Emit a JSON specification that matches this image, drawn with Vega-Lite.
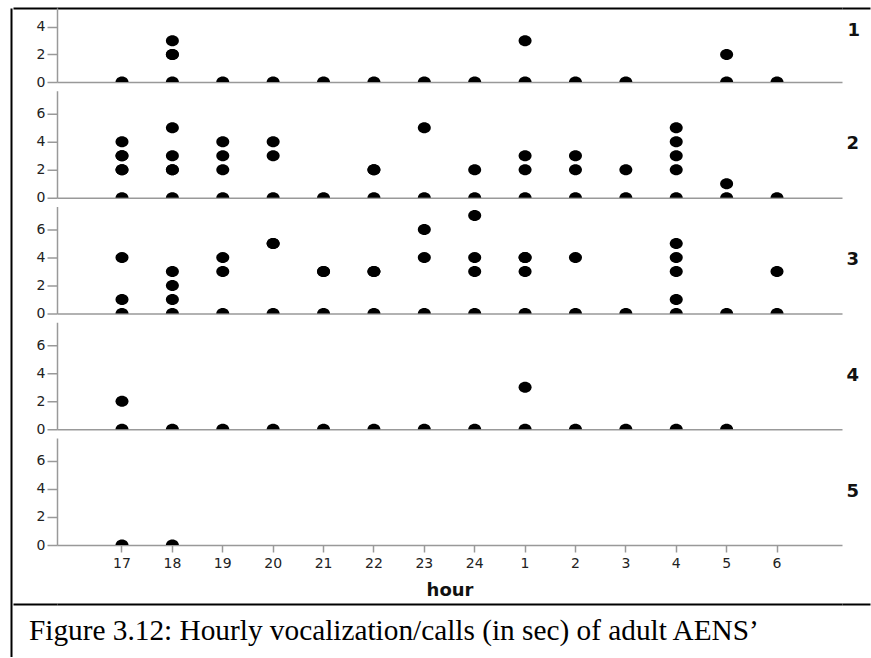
{
  "$schema": "https://vega.github.io/schema/vega-lite/v6.json",
  "background": "white",
  "padding": {"left": 10, "top": 7, "right": 0, "bottom": 0},
  "config": {
    "view": {"stroke": null},
    "font": "DejaVu Sans",
    "axis": {"labelFont": "DejaVu Sans", "titleFont": "DejaVu Sans", "grid": false}
  },
  "spacing": 0,
  "hconcat": [
    {
      "width": 1,
      "height": 649,
      "data": {"values": [{"part": "left frame line"}]},
      "mark": {"type": "point", "opacity": 0, "size": 1},
      "encoding": {
        "x": {"datum": 0, "type": "quantitative", "axis": null},
        "y": {"datum": 0, "type": "quantitative", "axis": {"orient": "left", "labels": false, "ticks": false, "title": null, "domainColor": "black", "domainWidth": 2}}
      }
    },
    {
      "spacing": 4,
      "vconcat": [
        {
          "data": {"values": [
            {"panel": 1, "hour": "17", "value": 0},
            {"panel": 1, "hour": "18", "value": 0},
            {"panel": 1, "hour": "18", "value": 2},
            {"panel": 1, "hour": "18", "value": 2},
            {"panel": 1, "hour": "18", "value": 3},
            {"panel": 1, "hour": "19", "value": 0},
            {"panel": 1, "hour": "20", "value": 0},
            {"panel": 1, "hour": "21", "value": 0},
            {"panel": 1, "hour": "22", "value": 0},
            {"panel": 1, "hour": "23", "value": 0},
            {"panel": 1, "hour": "24", "value": 0},
            {"panel": 1, "hour": "1", "value": 0},
            {"panel": 1, "hour": "1", "value": 3},
            {"panel": 1, "hour": "2", "value": 0},
            {"panel": 1, "hour": "3", "value": 0},
            {"panel": 1, "hour": "5", "value": 0},
            {"panel": 1, "hour": "5", "value": 2},
            {"panel": 1, "hour": "6", "value": 0},
            {"panel": 2, "hour": "17", "value": 0},
            {"panel": 2, "hour": "17", "value": 2},
            {"panel": 2, "hour": "17", "value": 2},
            {"panel": 2, "hour": "17", "value": 3},
            {"panel": 2, "hour": "17", "value": 3},
            {"panel": 2, "hour": "17", "value": 4},
            {"panel": 2, "hour": "18", "value": 0},
            {"panel": 2, "hour": "18", "value": 2},
            {"panel": 2, "hour": "18", "value": 2},
            {"panel": 2, "hour": "18", "value": 3},
            {"panel": 2, "hour": "18", "value": 5},
            {"panel": 2, "hour": "19", "value": 0},
            {"panel": 2, "hour": "19", "value": 2},
            {"panel": 2, "hour": "19", "value": 3},
            {"panel": 2, "hour": "19", "value": 4},
            {"panel": 2, "hour": "20", "value": 0},
            {"panel": 2, "hour": "20", "value": 3},
            {"panel": 2, "hour": "20", "value": 4},
            {"panel": 2, "hour": "21", "value": 0},
            {"panel": 2, "hour": "22", "value": 0},
            {"panel": 2, "hour": "22", "value": 2},
            {"panel": 2, "hour": "22", "value": 2},
            {"panel": 2, "hour": "23", "value": 0},
            {"panel": 2, "hour": "23", "value": 5},
            {"panel": 2, "hour": "24", "value": 0},
            {"panel": 2, "hour": "24", "value": 2},
            {"panel": 2, "hour": "1", "value": 0},
            {"panel": 2, "hour": "1", "value": 2},
            {"panel": 2, "hour": "1", "value": 3},
            {"panel": 2, "hour": "2", "value": 0},
            {"panel": 2, "hour": "2", "value": 2},
            {"panel": 2, "hour": "2", "value": 3},
            {"panel": 2, "hour": "3", "value": 0},
            {"panel": 2, "hour": "3", "value": 2},
            {"panel": 2, "hour": "4", "value": 0},
            {"panel": 2, "hour": "4", "value": 2},
            {"panel": 2, "hour": "4", "value": 3},
            {"panel": 2, "hour": "4", "value": 4},
            {"panel": 2, "hour": "4", "value": 5},
            {"panel": 2, "hour": "5", "value": 0},
            {"panel": 2, "hour": "5", "value": 1},
            {"panel": 2, "hour": "6", "value": 0},
            {"panel": 3, "hour": "17", "value": 0},
            {"panel": 3, "hour": "17", "value": 1},
            {"panel": 3, "hour": "17", "value": 4},
            {"panel": 3, "hour": "18", "value": 0},
            {"panel": 3, "hour": "18", "value": 1},
            {"panel": 3, "hour": "18", "value": 2},
            {"panel": 3, "hour": "18", "value": 3},
            {"panel": 3, "hour": "19", "value": 0},
            {"panel": 3, "hour": "19", "value": 3},
            {"panel": 3, "hour": "19", "value": 4},
            {"panel": 3, "hour": "20", "value": 0},
            {"panel": 3, "hour": "20", "value": 5},
            {"panel": 3, "hour": "20", "value": 5},
            {"panel": 3, "hour": "21", "value": 0},
            {"panel": 3, "hour": "21", "value": 3},
            {"panel": 3, "hour": "21", "value": 3},
            {"panel": 3, "hour": "22", "value": 0},
            {"panel": 3, "hour": "22", "value": 3},
            {"panel": 3, "hour": "22", "value": 3},
            {"panel": 3, "hour": "23", "value": 0},
            {"panel": 3, "hour": "23", "value": 4},
            {"panel": 3, "hour": "23", "value": 6},
            {"panel": 3, "hour": "24", "value": 0},
            {"panel": 3, "hour": "24", "value": 3},
            {"panel": 3, "hour": "24", "value": 4},
            {"panel": 3, "hour": "24", "value": 7},
            {"panel": 3, "hour": "1", "value": 0},
            {"panel": 3, "hour": "1", "value": 3},
            {"panel": 3, "hour": "1", "value": 4},
            {"panel": 3, "hour": "1", "value": 4},
            {"panel": 3, "hour": "2", "value": 0},
            {"panel": 3, "hour": "2", "value": 4},
            {"panel": 3, "hour": "3", "value": 0},
            {"panel": 3, "hour": "4", "value": 0},
            {"panel": 3, "hour": "4", "value": 1},
            {"panel": 3, "hour": "4", "value": 3},
            {"panel": 3, "hour": "4", "value": 4},
            {"panel": 3, "hour": "4", "value": 5},
            {"panel": 3, "hour": "5", "value": 0},
            {"panel": 3, "hour": "6", "value": 0},
            {"panel": 3, "hour": "6", "value": 3},
            {"panel": 4, "hour": "17", "value": 0},
            {"panel": 4, "hour": "17", "value": 2},
            {"panel": 4, "hour": "18", "value": 0},
            {"panel": 4, "hour": "19", "value": 0},
            {"panel": 4, "hour": "20", "value": 0},
            {"panel": 4, "hour": "21", "value": 0},
            {"panel": 4, "hour": "22", "value": 0},
            {"panel": 4, "hour": "23", "value": 0},
            {"panel": 4, "hour": "24", "value": 0},
            {"panel": 4, "hour": "1", "value": 0},
            {"panel": 4, "hour": "1", "value": 3},
            {"panel": 4, "hour": "2", "value": 0},
            {"panel": 4, "hour": "3", "value": 0},
            {"panel": 4, "hour": "4", "value": 0},
            {"panel": 4, "hour": "5", "value": 0},
            {"panel": 5, "hour": "17", "value": 0},
            {"panel": 5, "hour": "18", "value": 0}
          ]},
          "spacing": 8.75,
          "bounds": "flush",
          "vconcat": [
            {
              "width": 785, "height": 74,
              "transform": [{"filter": "datum.panel == 1"}],
              "title": {"text": "1", "orient": "right", "frame": "group", "angle": 0, "anchor": "middle", "align": "left", "baseline": "middle", "offset": -36, "dy": -14, "fontSize": 18, "fontWeight": "bold", "color": "#111"},
              "resolve": {"axis": {"x": "independent", "y": "independent"}},
              "layer": [
                {
                  "mark": {"type": "point", "filled": true, "opacity": 1, "color": "black", "size": 169, "shape": "M-1,0A1,0.85,0,1,1,1,0A1,0.85,0,1,1,-1,0Z", "clip": true},
                  "encoding": {
                    "x": {"field": "hour", "type": "ordinal", "scale": {"type": "band", "domain": ["17","18","19","20","21","22","23","24","1","2","3","4","5","6"], "paddingInner": 0.42, "paddingOuter": 1}, "axis": {"orient": "bottom", "title": null, "labels": false, "ticks": false, "domainColor": "#999", "domainWidth": 1.5}},
                    "y": {"field": "value", "type": "quantitative", "scale": {"domain": [0, 5.38], "nice": false, "zero": true}, "axis": {"orient": "left", "title": null, "values": [0, 2, 4, 5.38], "labelExpr": "datum.value > 5 ? '' : datum.label", "tickSize": {"condition": {"test": "datum.value > 5", "value": 44}, "value": 10}, "tickColor": {"condition": {"test": "datum.value > 5", "value": "black"}, "value": "#999"}, "tickWidth": {"condition": {"test": "datum.value > 5", "value": 2}, "value": 1.5}, "domainColor": "#999", "domainWidth": 1.5, "labelFontSize": 14, "labelColor": "#222", "labelPadding": 2, "labelFlush": false}}
                  }
                },
                {
                  "mark": {"type": "point", "opacity": 0, "size": 1},
                  "encoding": {
                    "x": {"field": "hour", "type": "ordinal", "axis": {"orient": "top", "title": null, "labels": false, "ticks": false, "domainColor": "black", "domainWidth": 2}},
                    "y": {"field": "value", "type": "quantitative", "axis": {"orient": "right", "title": null, "values": [5.38], "labels": false, "domain": false, "tickSize": 28, "tickColor": "black", "tickWidth": 2}}
                  }
                }
              ]
            },
            {
              "width": 785, "height": 107,
              "transform": [{"filter": "datum.panel == 2"}],
              "title": {"text": "2", "orient": "right", "frame": "group", "angle": 0, "anchor": "middle", "align": "left", "baseline": "middle", "offset": -8, "fontSize": 18, "fontWeight": "bold", "color": "#111"},
              "mark": {"type": "point", "filled": true, "opacity": 1, "color": "black", "size": 169, "shape": "M-1,0A1,0.85,0,1,1,1,0A1,0.85,0,1,1,-1,0Z", "clip": true},
              "encoding": {
                "x": {"field": "hour", "type": "ordinal", "scale": {"type": "band", "domain": ["17","18","19","20","21","22","23","24","1","2","3","4","5","6"], "paddingInner": 0.42, "paddingOuter": 1}, "axis": {"title": null, "labels": false, "ticks": false, "domainColor": "#999", "domainWidth": 1.5}},
                "y": {"field": "value", "type": "quantitative", "scale": {"domain": [0, 7.64], "nice": false, "zero": true}, "axis": {"title": null, "values": [0, 2, 4, 6], "tickSize": 10, "tickColor": "#999", "tickWidth": 1.5, "domainColor": "#999", "domainWidth": 1.5, "labelFontSize": 14, "labelColor": "#222", "labelPadding": 2, "labelFlush": false}}
              }
            },
            {
              "width": 785, "height": 107,
              "transform": [{"filter": "datum.panel == 3"}],
              "title": {"text": "3", "orient": "right", "frame": "group", "angle": 0, "anchor": "middle", "align": "left", "baseline": "middle", "offset": -8, "fontSize": 18, "fontWeight": "bold", "color": "#111"},
              "mark": {"type": "point", "filled": true, "opacity": 1, "color": "black", "size": 169, "shape": "M-1,0A1,0.85,0,1,1,1,0A1,0.85,0,1,1,-1,0Z", "clip": true},
              "encoding": {
                "x": {"field": "hour", "type": "ordinal", "scale": {"type": "band", "domain": ["17","18","19","20","21","22","23","24","1","2","3","4","5","6"], "paddingInner": 0.42, "paddingOuter": 1}, "axis": {"title": null, "labels": false, "ticks": false, "domainColor": "#999", "domainWidth": 1.5}},
                "y": {"field": "value", "type": "quantitative", "scale": {"domain": [0, 7.64], "nice": false, "zero": true}, "axis": {"title": null, "values": [0, 2, 4, 6], "tickSize": 10, "tickColor": "#999", "tickWidth": 1.5, "domainColor": "#999", "domainWidth": 1.5, "labelFontSize": 14, "labelColor": "#222", "labelPadding": 2, "labelFlush": false}}
              }
            },
            {
              "width": 785, "height": 107,
              "transform": [{"filter": "datum.panel == 4"}],
              "title": {"text": "4", "orient": "right", "frame": "group", "angle": 0, "anchor": "middle", "align": "left", "baseline": "middle", "offset": -8, "fontSize": 18, "fontWeight": "bold", "color": "#111"},
              "mark": {"type": "point", "filled": true, "opacity": 1, "color": "black", "size": 169, "shape": "M-1,0A1,0.85,0,1,1,1,0A1,0.85,0,1,1,-1,0Z", "clip": true},
              "encoding": {
                "x": {"field": "hour", "type": "ordinal", "scale": {"type": "band", "domain": ["17","18","19","20","21","22","23","24","1","2","3","4","5","6"], "paddingInner": 0.42, "paddingOuter": 1}, "axis": {"title": null, "labels": false, "ticks": false, "domainColor": "#999", "domainWidth": 1.5}},
                "y": {"field": "value", "type": "quantitative", "scale": {"domain": [0, 7.64], "nice": false, "zero": true}, "axis": {"title": null, "values": [0, 2, 4, 6], "tickSize": 10, "tickColor": "#999", "tickWidth": 1.5, "domainColor": "#999", "domainWidth": 1.5, "labelFontSize": 14, "labelColor": "#222", "labelPadding": 2, "labelFlush": false}}
              }
            },
            {
              "width": 785, "height": 107,
              "transform": [{"filter": "datum.panel == 5"}],
              "title": {"text": "5", "orient": "right", "frame": "group", "angle": 0, "anchor": "middle", "align": "left", "baseline": "middle", "offset": -8, "fontSize": 18, "fontWeight": "bold", "color": "#111"},
              "mark": {"type": "point", "filled": true, "opacity": 1, "color": "black", "size": 169, "shape": "M-1,0A1,0.85,0,1,1,1,0A1,0.85,0,1,1,-1,0Z", "clip": true},
              "encoding": {
                "x": {"field": "hour", "type": "ordinal", "scale": {"type": "band", "domain": ["17","18","19","20","21","22","23","24","1","2","3","4","5","6"], "paddingInner": 0.42, "paddingOuter": 1}, "axis": {"title": "hour", "labels": true, "ticks": true, "tickSize": 7, "tickColor": "#999", "tickWidth": 1.5, "labelAngle": 0, "labelFontSize": 14, "labelColor": "#222", "labelPadding": 4, "titleFontSize": 18, "titleFontWeight": "bold", "titleColor": "#111", "titlePadding": 11, "domainColor": "#999", "domainWidth": 1.5}},
                "y": {"field": "value", "type": "quantitative", "scale": {"domain": [0, 7.64], "nice": false, "zero": true}, "axis": {"title": null, "values": [0, 2, 4, 6], "tickSize": 10, "tickColor": "#999", "tickWidth": 1.5, "domainColor": "#999", "domainWidth": 1.5, "labelFontSize": 14, "labelColor": "#222", "labelPadding": 2, "labelFlush": false}}
              }
            }
          ]
        },
        {
          "width": 785,
          "height": 50,
          "data": {"values": [{"part": "caption box"}]},
          "title": {"text": "Figure 3.12: Hourly vocalization/calls (in sec) of adult AENS’", "orient": "top", "anchor": "start", "frame": "group", "offset": 0, "dy": 66, "dx": -28, "baseline": "alphabetic", "font": "Liberation Serif", "fontSize": 29.3, "fontWeight": "normal", "color": "black"},
          "resolve": {"axis": {"y": "independent"}},
          "layer": [
            {
              "mark": {"type": "point", "opacity": 0, "size": 1},
              "encoding": {
                "x": {"datum": 0, "type": "quantitative", "axis": {"orient": "top", "labels": false, "ticks": false, "title": null, "domainColor": "black", "domainWidth": 2}},
                "y": {"datum": 0, "type": "quantitative", "scale": {"domain": [0, 1]}, "axis": {"orient": "left", "values": [1], "labels": false, "domain": false, "title": null, "tickSize": 44, "tickColor": "black", "tickWidth": 2}}
              }
            },
            {
              "mark": {"type": "point", "opacity": 0, "size": 1},
              "encoding": {
                "x": {"datum": 0, "type": "quantitative"},
                "y": {"datum": 0, "type": "quantitative", "axis": {"orient": "right", "values": [1], "labels": false, "domain": false, "title": null, "tickSize": 28, "tickColor": "black", "tickWidth": 2}}
              }
            }
          ]
        }
      ]
    }
  ]
}
